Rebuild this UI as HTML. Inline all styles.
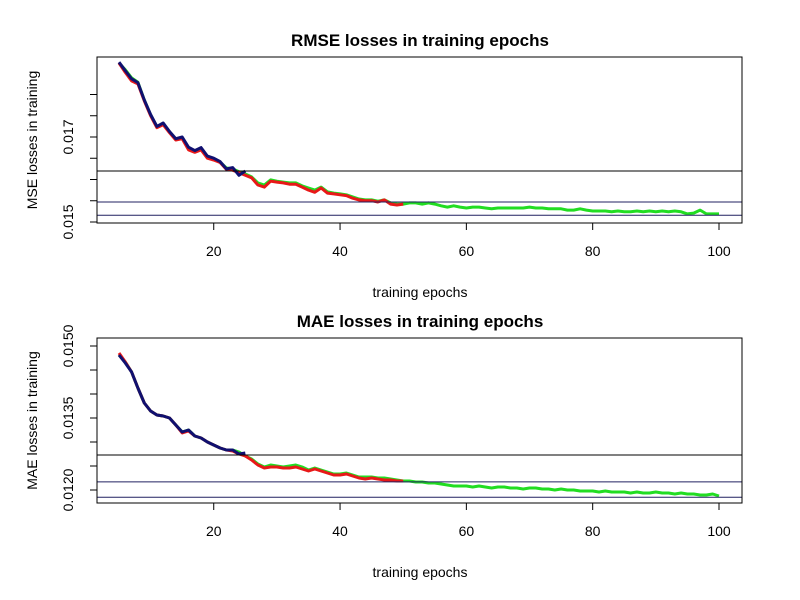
<!DOCTYPE html>
<html><head><meta charset="utf-8"><style>
html,body{margin:0;padding:0;background:#fff;}
svg{display:block;font-family:"Liberation Sans",Arial,sans-serif;}
</style></head><body>
<svg id="chart" width="800" height="600" viewBox="0 0 800 600"></svg>
<script>
// ---- data ----
const epochsGreen = Array.from({length:96},(_,i)=>i+5);
const epochsRed = Array.from({length:46},(_,i)=>i+5);
const epochsBlue = Array.from({length:21},(_,i)=>i+5);
const xTicks = [20,40,60,80,100];

const rmseGreen = [0.01874,0.01858,0.01839,0.01829,0.01787,0.01752,0.01724,0.01731,0.01712,0.01695,0.01698,0.01674,0.01667,0.01672,0.01653,0.01648,0.01641,0.01627,0.01625,0.01618,0.01613,0.01606,0.01592,0.01587,0.01599,0.01596,0.01594,0.01592,0.01592,0.01585,0.01580,0.01575,0.01582,0.01571,0.01568,0.01566,0.01564,0.01559,0.01554,0.01552,0.01552,0.01549,0.01552,0.01545,0.01542,0.01542,
0.01545,0.01545,0.01542,0.01545,0.01542,0.01538,0.01535,0.01538,0.01535,0.01533,
0.01535,0.01535,0.01533,0.01531,0.01533,0.01533,0.01533,0.01533,0.01533,0.01535,
0.01533,0.01533,0.01531,0.01531,0.01531,0.01528,0.01528,0.01531,0.01528,0.01526,
0.01526,0.01526,0.01524,0.01526,0.01524,0.01524,0.01526,0.01524,0.01526,0.01524,
0.01526,0.01524,0.01526,0.01524,0.01519,0.01521,0.01528,0.01519,0.01519,0.01519];
const rmseRed = [0.01874,0.01852,0.01832,0.01825,0.01785,0.01750,0.01722,0.01729,0.01710,0.01693,0.01696,0.01670,0.01664,0.01670,0.01650,0.01646,0.01640,0.01624,0.01622,0.01616,0.01610,0.01604,0.01587,0.01582,0.01596,0.01594,0.01592,0.01589,0.01589,0.01582,0.01575,0.01570,0.01580,0.01568,0.01566,0.01564,0.01562,0.01556,0.01552,0.01550,0.01550,0.01547,0.01552,0.01542,0.01540,0.01542];
const rmseBlue = [0.01876,0.01856,0.01837,0.01828,0.01787,0.01753,0.01725,0.01733,0.01713,0.01696,0.01700,0.01676,0.01668,0.01675,0.01655,0.01650,0.01642,0.01625,0.01628,0.01610,0.01620];
const rmseTicks = [0.015,0.0155,0.016,0.0165,0.017,0.0175,0.018];
const rmseTickLabels = ["0.015","","","","0.017","",""];
const rmseHLines = [0.0162,0.01547,0.01516];

const maeGreen = [0.014813,0.014667,0.014458,0.014125,0.013813,0.013646,0.013563,0.013542,0.013500,0.013354,0.013208,0.013250,0.013125,0.013083,0.013000,0.012938,0.012875,0.012833,0.012833,0.012792,0.012708,0.012646,0.012542,0.012479,0.012521,0.012500,0.012479,0.012500,0.012521,0.012479,0.012417,0.012458,0.012417,0.012375,0.012333,0.012333,0.012354,0.012313,0.012271,0.012271,0.012271,0.012250,0.012250,0.012229,0.012208,0.012188,
0.012188,0.012167,0.012167,0.012146,0.012146,0.012125,0.012104,0.012083,0.012083,0.012083,
0.012063,0.012083,0.012063,0.012042,0.012063,0.012063,0.012042,0.012042,0.012021,0.012042,
0.012042,0.012021,0.012021,0.012000,0.012021,0.012000,0.012000,0.011979,0.011979,0.011979,
0.011958,0.011979,0.011958,0.011958,0.011958,0.011938,0.011958,0.011938,0.011938,0.011958,
0.011938,0.011938,0.011917,0.011938,0.011917,0.011917,0.011896,0.011896,0.011917,0.011875];
const maeRed = [0.014854,0.014667,0.014458,0.014125,0.013813,0.013646,0.013563,0.013542,0.013500,0.013354,0.013188,0.013229,0.013125,0.013083,0.013000,0.012938,0.012875,0.012833,0.012813,0.012750,0.012708,0.012625,0.012521,0.012458,0.012479,0.012479,0.012458,0.012458,0.012479,0.012438,0.012396,0.012438,0.012396,0.012354,0.012313,0.012313,0.012333,0.012292,0.012250,0.012229,0.012250,0.012229,0.012208,0.012208,0.012188,0.012188];
const maeBlue = [0.014813,0.014646,0.014458,0.014125,0.013813,0.013646,0.013563,0.013542,0.013500,0.013354,0.013208,0.013250,0.013125,0.013083,0.013000,0.012938,0.012875,0.012833,0.012833,0.012750,0.012771];
const maeTicks = [0.0150,0.0145,0.0140,0.0135,0.0130,0.0125,0.0120];
const maeTickLabels = ["0.0150","","","0.0135","","","0.0120"];
const maeHLines = [0.01273,0.01217,0.01185];

// ---- drawing ----
const svg = document.getElementById('chart');
const NS = 'http://www.w3.org/2000/svg';
function mk(tag, attrs, parent){
  const e = document.createElementNS(NS, tag);
  for (const k in attrs) e.setAttribute(k, attrs[k]);
  (parent||svg).appendChild(e);
  return e;
}
function panel(o){
  const g = mk('g', {});
  
  
  const L=97,R=742,T=o.top,B=o.bottom;
  const xs = e => 119 + (e-5)*(719-119)/95;
  const ys = v => o.y0px + (o.v0 - v)*o.pxPer;
  mk('rect',{x:L,y:T,width:R-L,height:B-T,fill:'#fff',stroke:'none'},g);
  const series = [[o.green,epochsGreen,'#22dd22','green-series'],[o.red,epochsRed,'#e81818','red-series'],[o.blue,epochsBlue,'#101070','blue-series']];
  series.forEach(([vals,eps,col,nm])=>{
    const d = vals.map((v,i)=>(i?'L':'M')+xs(eps[i]).toFixed(1)+','+ys(v).toFixed(1)).join(' ');
    const p = mk('path',{d:d,fill:'none',stroke:col,'stroke-width':3,'stroke-linejoin':'round'},g);
    
    
  });
  o.hlines.forEach((v,i)=>{
    const l = mk('line',{x1:L,x2:R,y1:ys(v),y2:ys(v),stroke:i===0?'#000':'#202060','stroke-width':1},g);
    
    
  });
  const box = mk('rect',{x:L,y:T,width:R-L,height:B-T,fill:'none',stroke:'#000','stroke-width':1},g);
  
  
  xTicks.forEach(t=>{
    const x = xs(t);
    mk('line',{x1:x,x2:x,y1:B,y2:B+7,stroke:'#000'},g);
    const tx = mk('text',{x:x,y:B+33,'text-anchor':'middle','font-size':14,fill:'#000'},g);
    tx.textContent = t;
    
    
  });
  o.ticks.forEach((t,i)=>{
    const y = ys(t);
    mk('line',{x1:L-7,x2:L,y1:y,y2:y,stroke:'#000'},g);
    if (o.tickLabels[i]) {
      const tx = mk('text',{x:0,y:0,transform:'translate(73,'+y+') rotate(-90)','text-anchor':'middle','font-size':14,fill:'#000'},g);
      tx.textContent = o.tickLabels[i];
      
      
    }
  });
  const ttl = mk('text',{x:420,y:T-11,'text-anchor':'middle','font-size':17,'font-weight':'bold',fill:'#000'},g);
  ttl.textContent = o.title;
  
  
  const xl = mk('text',{x:420,y:B+74,'text-anchor':'middle','font-size':14,fill:'#000'},g);
  xl.textContent = 'training epochs';
  
  
  const yl = mk('text',{x:0,y:0,transform:'translate(37,'+((T+B)/2)+') rotate(-90)','text-anchor':'middle','font-size':14,fill:'#000'},g);
  yl.textContent = o.ylabel;
  
  
}
panel({name:'rmse-panel',top:57,bottom:223,y0px:222,v0:0.015,pxPer:42500,green:rmseGreen,red:rmseRed,blue:rmseBlue,ticks:rmseTicks,tickLabels:rmseTickLabels,hlines:rmseHLines,title:'RMSE losses in training epochs',ylabel:'MSE losses in training'});
panel({name:'mae-panel',top:338,bottom:503,y0px:346,v0:0.015,pxPer:48000,green:maeGreen,red:maeRed,blue:maeBlue,ticks:maeTicks,tickLabels:maeTickLabels,hlines:maeHLines,title:'MAE losses in training epochs',ylabel:'MAE losses in training'});
</script>
</body></html>
